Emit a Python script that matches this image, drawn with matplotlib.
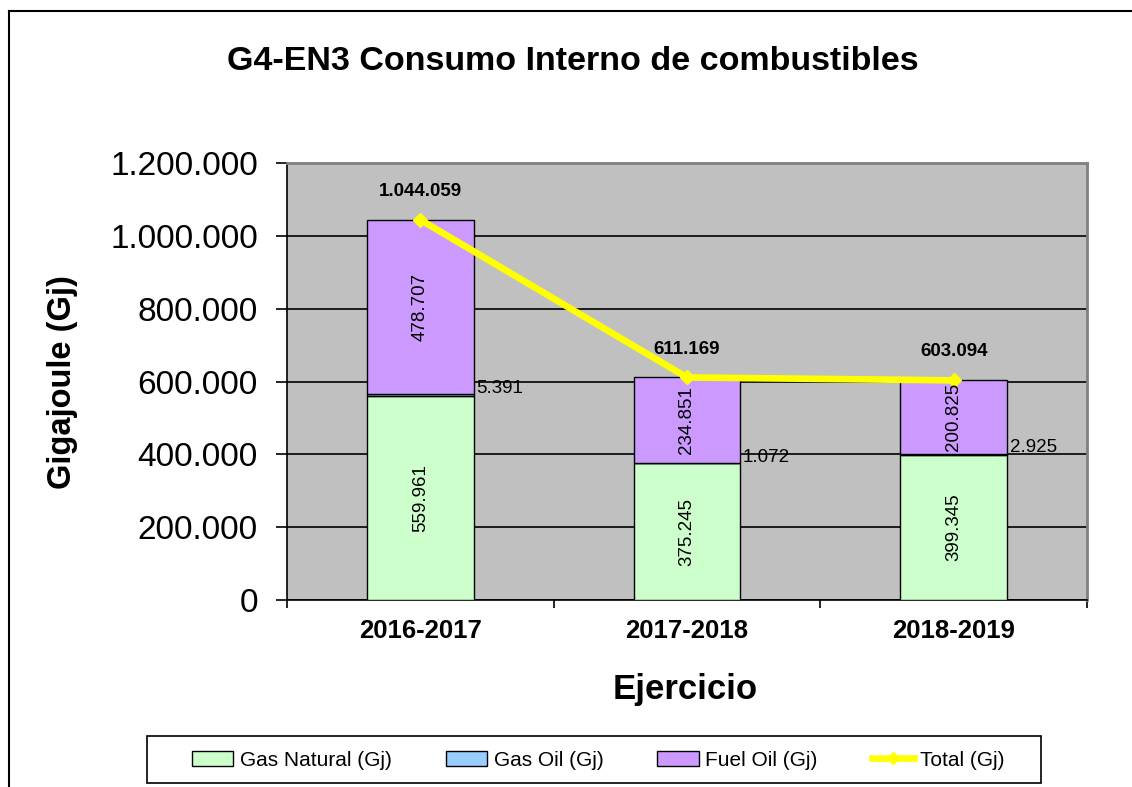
import numpy as np
import matplotlib
matplotlib.use("Agg")
import matplotlib.pyplot as plt
from matplotlib.lines import Line2D
from matplotlib.patches import Patch, Rectangle
from matplotlib.ticker import FuncFormatter, FixedLocator

plt.rcParams['font.family'] = ['Liberation Sans', 'DejaVu Sans']

# data
ejercicios = ['2016-2017', '2017-2018', '2018-2019']
gas_natural = [559961, 375245, 399345]
gas_oil = [5391, 1072, 2925]
fuel_oil = [478707, 234851, 200825]
total = [1044059, 611169, 603094]

c_gn = '#CCFFCC'
c_go = '#99CCFF'
c_fo = '#CC99FF'
c_tot = '#FFFF00'

W, H = 1132, 787
fig = plt.figure(figsize=(W / 100, H / 100), dpi=100)
fig.patch.set_facecolor('white')

# outer chart frame (left + top visible)
fig.add_artist(Line2D([9 / W, 9 / W], [0, 1 - 11 / H], transform=fig.transFigure, color='black', lw=1.5))
fig.add_artist(Line2D([9 / W, 1], [1 - 11 / H, 1 - 11 / H], transform=fig.transFigure, color='black', lw=1.5))

ax = fig.add_axes([287 / W, 1 - 600 / H, 800 / W, 437 / H])
ax.set_facecolor('#C0C0C0')

x = np.arange(len(ejercicios))
bw = 0.4
gn = np.array(gas_natural)
go = np.array(gas_oil)
fo = np.array(fuel_oil)

ax.bar(x, gn, bw, color=c_gn, edgecolor='black', lw=1, zorder=3)
ax.bar(x, go, bw, bottom=gn, color=c_go, edgecolor='black', lw=1, zorder=3)
ax.bar(x, fo, bw, bottom=gn + go, color=c_fo, edgecolor='black', lw=1, zorder=3)
ax.plot(x, total, color=c_tot, lw=4.8, marker='D', ms=7, zorder=5, solid_capstyle='butt')

fmt = lambda v: f"{int(round(v)):,}".replace(',', '.')

for i in x:
    ax.text(i, gn[i] / 2, fmt(gn[i]), rotation=90, ha='center', va='center', fontsize=13.5, zorder=6)
    ax.text(i, gn[i] + go[i] + fo[i] / 2, fmt(fo[i]), rotation=90, ha='center', va='center', fontsize=13.5, zorder=6)
    ax.text(i + bw / 2 + 0.01, gn[i] + go[i] + 16000, fmt(go[i]), ha='left', va='center', fontsize=13.5, zorder=6)
    ax.text(i, total[i] + 78000, fmt(total[i]), ha='center', va='center', fontsize=13.5, fontweight='bold', zorder=6)

ax.set_xlim(-0.5, 2.5)
ax.set_ylim(0, 1200000)
ax.set_yticks(np.arange(0, 1200001, 200000))
ax.yaxis.set_major_formatter(FuncFormatter(lambda v, p: fmt(v)))
ax.grid(axis='y', color='black', lw=1.2, zorder=1)

ax.set_xticks(x)
ax.set_xticklabels(ejercicios, fontsize=18.5, fontweight='bold')
ax.xaxis.set_minor_locator(FixedLocator([-0.5, 0.5, 1.5, 2.5]))
ax.tick_params(axis='x', which='major', length=0, pad=14)
ax.tick_params(axis='x', which='minor', length=6, width=1.2, direction='out')
ax.tick_params(axis='y', length=8, width=1.2, pad=13, labelsize=24)

for s in ['top', 'right']:
    ax.spines[s].set_color('#808080')
    ax.spines[s].set_linewidth(2)
for s in ['left', 'bottom']:
    ax.spines[s].set_color('black')
    ax.spines[s].set_linewidth(1.2)

fig.text(573 / W, 1 - 61 / H, 'G4-EN3 Consumo Interno de combustibles', ha='center', va='center',
         fontsize=24.5, fontweight='bold')
fig.text(62 / W, 1 - 382 / H, 'Gigajoule (Gj)', rotation=90, ha='center', va='center',
         fontsize=23.5, fontweight='bold')
fig.text(685 / W, 1 - 690 / H, 'Ejercicio', ha='center', va='center', fontsize=25, fontweight='bold')

# legend frame drawn separately, legend itself frameless inside it
fig.add_artist(Rectangle((147 / W, 1 - 783 / H), 894 / W, 47 / H, transform=fig.transFigure,
                         fill=False, edgecolor='black', lw=1.2))
handles = [
    Patch(facecolor=c_gn, edgecolor='black', label='Gas Natural (Gj)'),
    Patch(facecolor=c_go, edgecolor='black', label='Gas Oil (Gj)'),
    Patch(facecolor=c_fo, edgecolor='black', label='Fuel Oil (Gj)'),
    Line2D([], [], color=c_tot, lw=4.8, marker='D', ms=6, label='Total (Gj)'),
]
fig.legend(handles=handles, loc='center', ncol=4, bbox_to_anchor=(598 / W, 1 - 760 / H),
           fontsize=15, frameon=False, handlelength=2.0, handleheight=0.7,
           handletextpad=0.3, columnspacing=2.6, borderaxespad=0)

fig.savefig('out.png', dpi=100)
